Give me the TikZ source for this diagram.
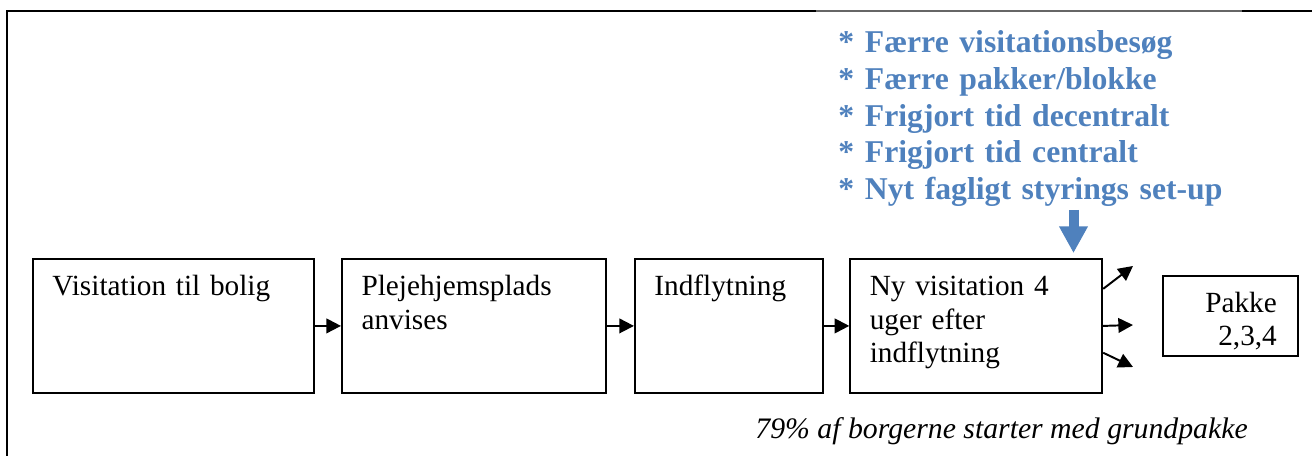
\documentclass[tikz,border=0pt]{standalone}
\usepackage{fontspec}
\setmainfont{Liberation Serif}
\usepackage{tikz}
\usetikzlibrary{arrows.meta,positioning}
\definecolor{noteblue}{RGB}{79,129,189}
\tikzset{
    %Define standard arrow tip
    >={Triangle[length=6pt,width=6pt]},
    %Define style for boxes
    stage/.style={
           rectangle,
           draw=black, line width=0.8pt,
           inner xsep=8pt,
           inner ysep=6pt,
           text height=9pt,
           text depth=33.9pt,
           align=left,
           font=\fontsize{12}{13.8}\selectfont},
    result/.style={
           rectangle,
           draw=black, line width=0.8pt,
           inner xsep=8.6pt,
           inner ysep=4pt,
           text width=38.2pt,
           text height=11pt,
           text depth=14pt,
           align=right,
           font=\fontsize{12}{13.8}\selectfont},
    notes/.style={
           inner sep=0pt,
           text width=160pt,
           align=left,
           text=noteblue,
           font=\fontsize{13}{15}\selectfont\bfseries},
    caption/.style={
           inner sep=0pt,
           font=\fontsize{12.2}{14}\selectfont\itshape},
    frame/.style={line width=0.8pt},
    % Define arrow style
    flow/.style={
           ->,
           line width=0.8pt},
    push/.style={
           -{Triangle[length=11pt,width=11.1pt]},
           line width=4.1pt,
           draw=noteblue,
           shorten >=2pt}
}
\begin{document}
\begin{tikzpicture}[x=0.41pt,y=-0.41pt]
\useasboundingbox (0,0) rectangle (1312,456);
 %frame
\draw[frame] (7,456) -- (7,11) -- (816,11);
\draw[frame, draw=black!60] (816,11) -- (1242,11);
\draw[frame] (1242,11) -- (1312,11);
 %nodes
\node[stage, text width=99.2pt, anchor=north west](visit) at (32,258){Visitation til bolig};
\node[stage, text width=92.2pt, right=10.7pt of visit](place){Plejehjemsplads\\anvises};
\node[stage, text width=61pt, right=11.1pt of place](move){Indflytning};
\node[stage, text width=87.3pt, right=10.5pt of move](review){Ny visitation 4\\uger efter\\indflytning};
\node[result, right=24pt of review, yshift=4.1pt](pack){Pakke\\2,3,4};
\node[notes, anchor=base west](gains) at (838,53){{*} Færre visitationsbesøg\\
{*} Færre pakker/blokke\\
{*} Frigjort tid decentralt\\
{*} Frigjort tid centralt\\
{*} Nyt fagligt styrings set-up};
\node[caption, anchor=base west](share) at (755,439){79\% af borgerne starter med grundpakke};
 %arrows
\coordinate (down) at (1073.5,210);
\coordinate (fanup) at (1133,266);
\coordinate (fanmid) at (1133,325);
\coordinate (fanlow) at (1133,367);
\draw[flow] (visit) -- (place);
\draw[flow] (place) -- (move);
\draw[flow] (move) -- (review);
\draw[flow] ([yshift=15.2pt]review.east) -- (fanup);
\draw[flow] (review.east) -- (fanmid);
\draw[flow] ([yshift=-11pt]review.east) -- (fanlow);
\draw[push] (down) -- (down |- review.north);
\end{tikzpicture}
\end{document}
